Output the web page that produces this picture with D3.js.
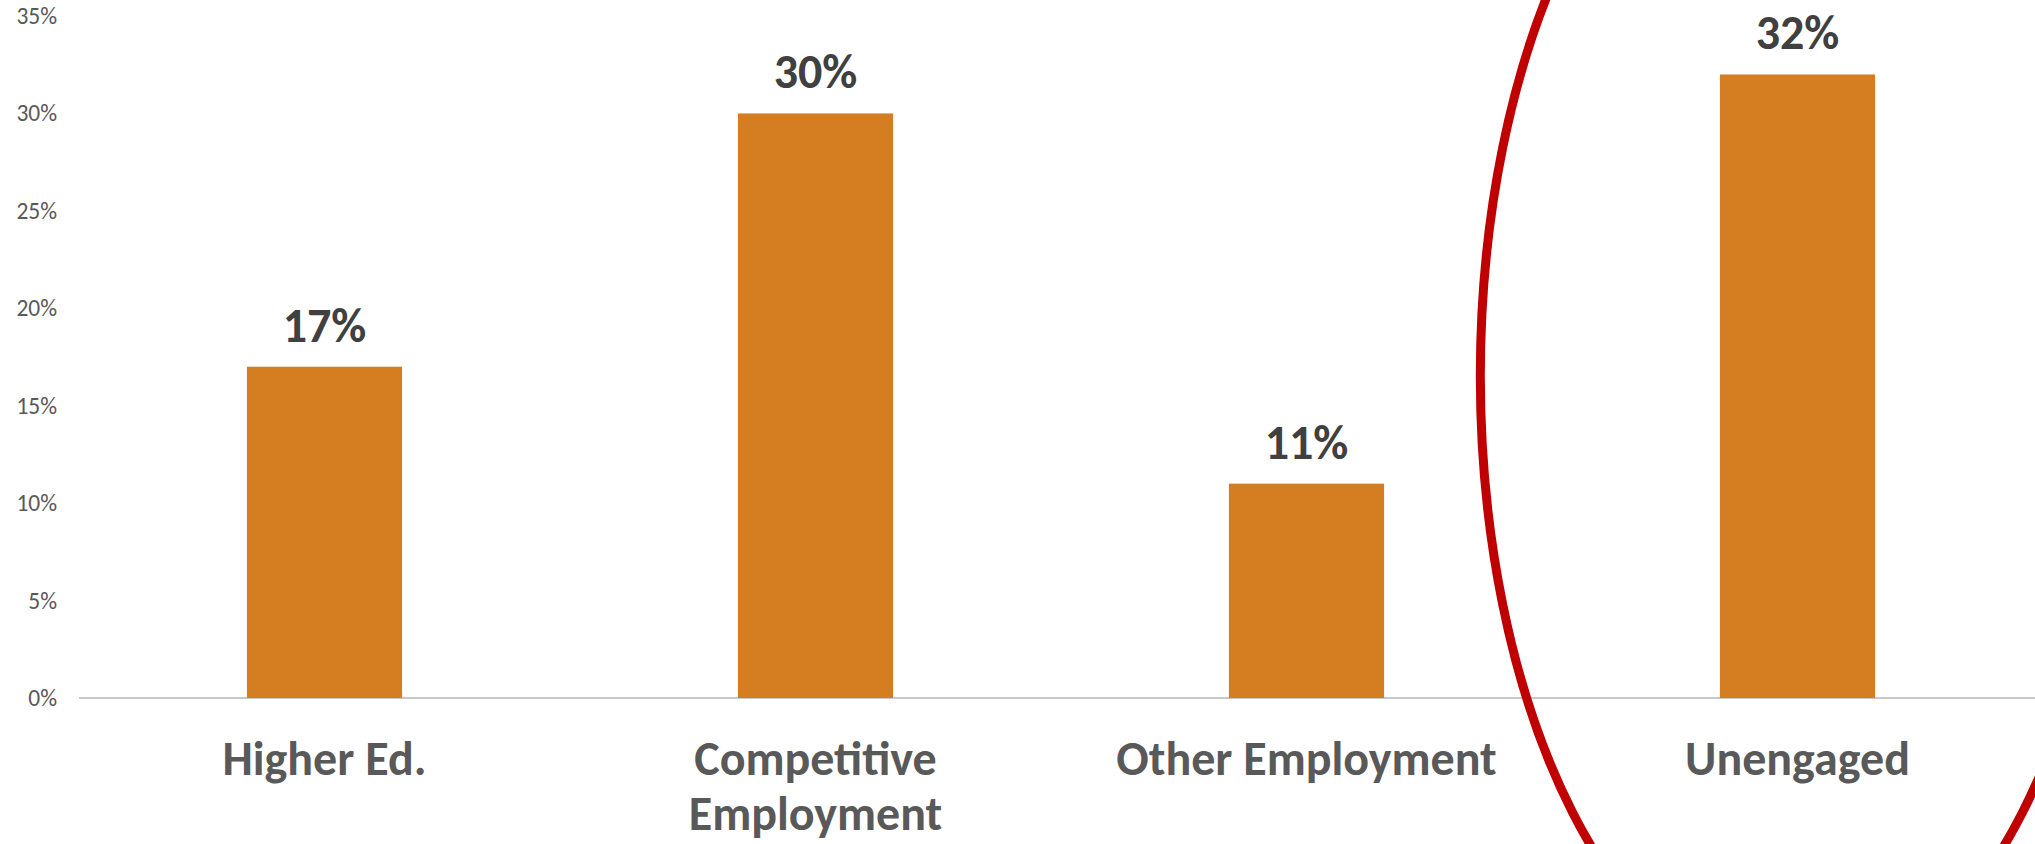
<!DOCTYPE html>
<html>
<head>
<meta charset="utf-8">
<script src="https://cdn.jsdelivr.net/npm/d3@7"></script>
<style>
  body { margin: 0; background: #fff; }
  svg { display: block; }
</style>
</head>
<body>
<div id="content"></div>
<script>
// chart data
const categories = [['Higher Ed.'], ['Competitive', 'Employment'], ['Other Employment'], ['Unengaged']];
const values = [0.17, 0.30, 0.11, 0.32];
const yTicks = [0, 0.05, 0.10, 0.15, 0.20, 0.25, 0.30, 0.35];
const highlighted = 'Unengaged';

var app = {};
app.width = 2035;
app.height = 844;
app.font = "Calibri, Carlito, 'Open Sans', sans-serif";

app.names = categories.map((c) => c.join(' '));

app.xScale = d3.scaleBand()
               .domain(app.names)
               .range([79, 2043])
               .paddingInner(0.684)
               .paddingOuter(0.342);

app.yScale = d3.scaleLinear()
               .domain([0, 0.35])
               .range([698, 16]);

app.svg = d3.select('#content').append('svg')
            .attr('width', app.width)
            .attr('height', app.height);

// y axis: labels only, no line
app.yAxis = d3.axisLeft(app.yScale)
              .tickValues(yTicks)
              .tickFormat(d3.format('.0%'))
              .tickSize(0)
              .tickPadding(0);

app.yGuide = app.svg.append('g')
                .attr('transform', 'translate(57, 0)')
                .call(app.yAxis);
app.yGuide.select('.domain').remove();
app.yGuide.selectAll('text')
          .attr('fill', '#595959')
          .style('font-family', app.font)
          .style('font-size', '23.5px');

// baseline
app.svg.append('line')
   .attr('x1', 79)
   .attr('x2', app.width)
   .attr('y1', app.yScale(0))
   .attr('y2', app.yScale(0))
   .attr('stroke', '#c8c8c8')
   .attr('stroke-width', 2);

app.bars = app.svg.append('g').selectAll('rect')
              .data(values)
              .enter().append('rect')
              .attr('x', (d, i) => app.xScale(app.names[i]))
              .attr('width', app.xScale.bandwidth())
              .attr('y', (d) => app.yScale(d))
              .attr('height', (d) => app.yScale(0) - app.yScale(d))
              .attr('fill', '#d47d21');

// value labels
app.svg.append('g').selectAll('text')
   .data(values)
   .enter().append('text')
   .attr('x', (d, i) => app.xScale(app.names[i]) + app.xScale.bandwidth() / 2)
   .attr('y', (d) => app.yScale(d) - 25)
   .attr('text-anchor', 'middle')
   .attr('fill', '#404040')
   .style('font-family', app.font)
   .style('font-weight', 'bold')
   .style('font-size', '48px')
   .text((d) => d3.format('.0%')(d));

// category labels
app.catLabels = app.svg.append('g').selectAll('text')
                   .data(categories)
                   .enter().append('text')
                   .attr('x', (d, i) => app.xScale(app.names[i]) + app.xScale.bandwidth() / 2)
                   .attr('y', 775)
                   .attr('text-anchor', 'middle')
                   .attr('fill', '#595959')
                   .style('font-family', app.font)
                   .style('font-weight', 'bold')
                   .style('font-size', '48px');

app.catLabels.selectAll('tspan')
   .data((d) => d)
   .enter().append('tspan')
   .attr('x', function() { return d3.select(this.parentNode).attr('x'); })
   .attr('dy', (d, i) => i === 0 ? 0 : 55)
   .text((d) => d);

// red circle around the highlighted category
app.svg.append('ellipse')
   .attr('cx', app.xScale(highlighted) + app.xScale.bandwidth() / 2)
   .attr('cy', 376)
   .attr('rx', app.xScale.step() * 0.646)
   .attr('ry', 619)
   .attr('fill', 'none')
   .attr('stroke', '#c00000')
   .attr('stroke-width', 9);
</script>
</body>
</html>
